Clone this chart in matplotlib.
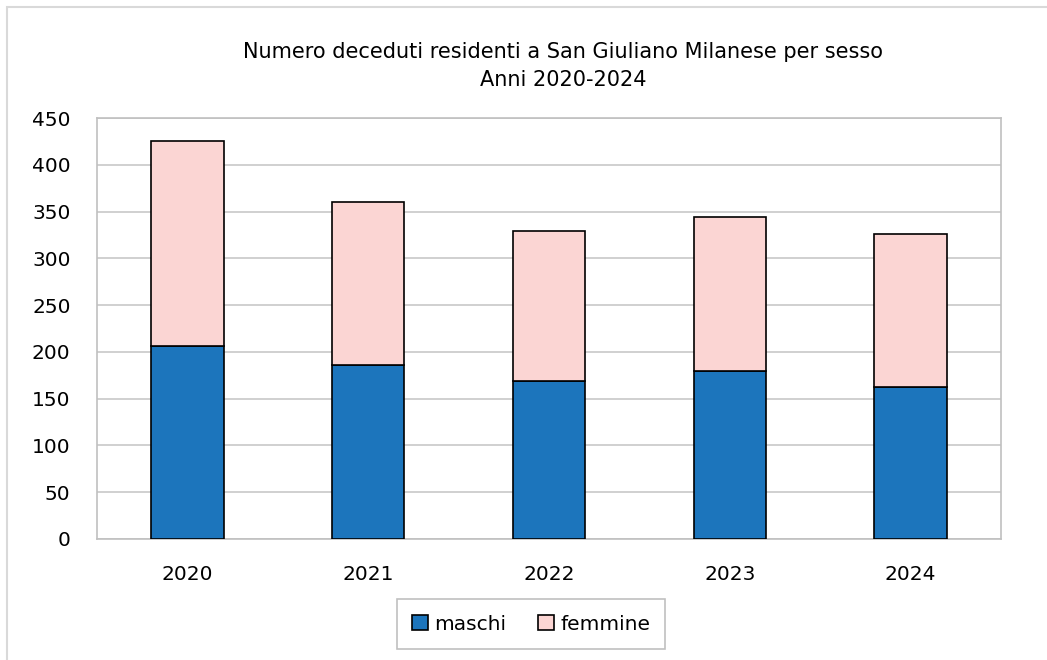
import matplotlib.pyplot as plt
from matplotlib.patches import Rectangle

anni = ['2020', '2021', '2022', '2023', '2024']
maschi = [206, 186, 169, 180, 162]
femmine = [219, 174, 160, 164, 164]

plt.rcParams['font.family'] = ['DejaVu Sans']

fig = plt.figure(figsize=(10.47, 6.6), dpi=100)
W, H = 1047, 660

# chart border (excel-like frame)
fig.add_artist(Rectangle((7 / W, -0.05), 1.1, 1 - 7 / H + 0.05, transform=fig.transFigure,
                         fill=False, edgecolor='#d9d9d9', linewidth=1.5))

ax = fig.add_axes([97 / W, 1 - 539 / H, (1001 - 97) / W, (539 - 118) / H])
x = range(len(anni))
ax.bar(x, maschi, width=0.4, color='#1c75bc', edgecolor='black', linewidth=1.2,
       label='maschi', zorder=3)
ax.bar(x, femmine, width=0.4, bottom=maschi, color='#fbd5d3', edgecolor='black',
       linewidth=1.2, label='femmine', zorder=3)

ax.set_xlim(-0.5, 4.5)
ax.set_ylim(0, 450)
ax.set_yticks(range(0, 451, 50))
ax.set_xticks(list(x))
ax.set_xticklabels(anni)
ax.tick_params(axis='both', length=0, labelsize=14.5, colors='black')
ax.tick_params(axis='y', pad=19)
ax.tick_params(axis='x', pad=19)
ax.grid(axis='y', color='#c8c8c8', linewidth=1.2, zorder=0)
for s in ax.spines.values():
    s.set_color('#c0c0c0')
    s.set_linewidth(1.2)

fig.text(563 / W, 1 - 66 / H, 'Numero deceduti residenti a San Giuliano Milanese per sesso\nAnni 2020-2024',
         ha='center', va='center', fontsize=15, linespacing=1.45)

leg = ax.legend(loc='center', bbox_to_anchor=(531 / W, 1 - 624 / H), bbox_transform=fig.transFigure,
                ncol=2, fontsize=14.5, frameon=True, fancybox=False, edgecolor='#b0b0b0',
                handlelength=0.8, handleheight=0.8, handletextpad=0.3, columnspacing=1.6,
                borderpad=0.75)
leg.get_frame().set_linewidth(1.2)
leg.get_frame().set_boxstyle('square', pad=0.0)

fig.savefig('out.png', dpi=100)
